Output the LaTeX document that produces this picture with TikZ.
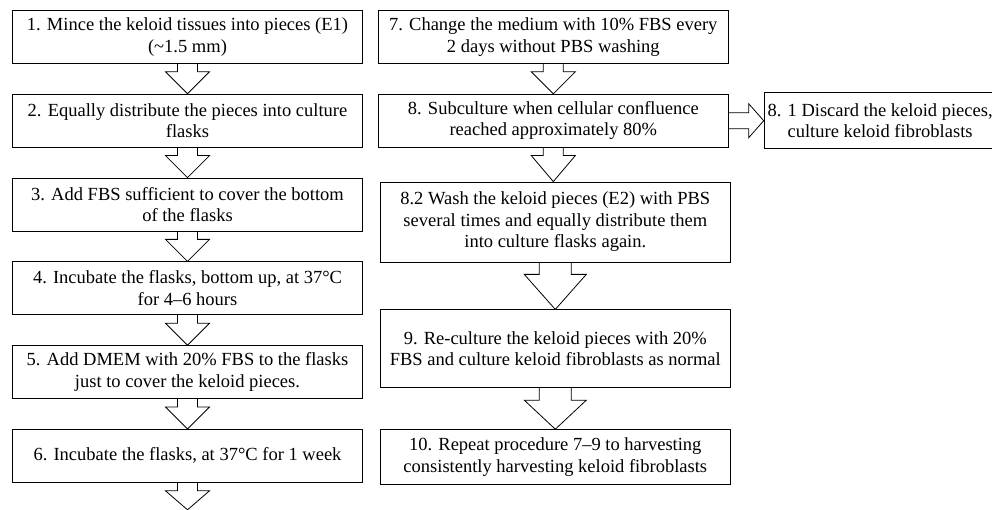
\documentclass[tikz,border=0pt]{standalone}
\usepackage{fontspec}
\setmainfont{Liberation Serif}
\usetikzlibrary{positioning}

\begin{document}
\begin{tikzpicture}[x=1pt,y=1pt,line width=0.8pt,node distance=30pt,
  stepbox/.style={draw,align=center,minimum width=350pt,minimum height=53pt,
    inner xsep=3pt,font=\fontsize{18.5}{21.5}\selectfont},
  blockdown/.style n args={3}{to path={
    ([xshift=-#1pt]\tikztostart.south) -- ++(0,-#3) -- ++(#1-#2,0)
    -- (\tikztostart.south |- \tikztotarget)
    -- ([shift={(#2,-#3)}]\tikztostart.south) -- ++(#1-#2,0)
    -- ([xshift=#1pt]\tikztostart.south)}},
  smallarrow/.style={blockdown={10}{22}{8}},
  bigarrow/.style={blockdown={16}{31}{12}},
  sidearrow/.style={to path={
    ([yshift=8pt]\tikztostart.east) -- ++(20,0) -- ++(0,9)
    -- (\tikztostart.east -| \tikztotarget)
    -- ([shift={(20,-17)}]\tikztostart.east) -- ++(0,9)
    -- ([yshift=-8pt]\tikztostart.east)}}]

  \useasboundingbox (0,0) rectangle (992,-510);

  % left column
  \node[stepbox,anchor=north] (s1) at (187.5,-10) {1. Mince the keloid tissues into pieces (E1)\\(\textasciitilde1.5 mm)};
  \node[stepbox] (s2) [below=of s1] {2. Equally distribute the pieces into culture\\flasks};
  \node[stepbox] (s3) [below=of s2] {3. Add FBS sufficient to cover the bottom\\of the flasks};
  \node[stepbox] (s4) [below=of s3] {4. Incubate the flasks, bottom up, at 37°C\\for 4--6 hours};
  \node[stepbox] (s5) [below=of s4] {5. Add DMEM with 20\% FBS to the flasks\\just to cover the keloid pieces.};
  \node[stepbox] (s6) [below=of s5] {6. Incubate the flasks, at 37°C\ for 1 week};
  \coordinate (end) at ([yshift=-27pt]s6.south);

  % right column
  \node[stepbox] (s7) [right=15pt of s1] {7. Change the medium with 10\% FBS every\\2 days without PBS washing};
  \node[stepbox] (s8) [below=of s7] {8. Subculture when cellular confluence\\reached approximately 80\%};
  \node[stepbox,minimum width=232pt,minimum height=56pt,inner xsep=1pt] (s81) [right=35pt of s8] {8. 1 Discard the keloid pieces,\\culture keloid fibroblasts};
  \node[stepbox,minimum height=80pt] (s82) [below=34pt of s8,xshift=2pt] {8.2 Wash the keloid pieces (E2) with PBS\\several times and equally distribute them\\into culture flasks again.};
  \node[stepbox,minimum height=78pt] (s9) [below=47pt of s82] {9. Re-culture the keloid pieces with 20\%\\FBS and culture keloid fibroblasts as normal};
  \node[stepbox,minimum height=55pt] (s10) [below=41pt of s9] {10. Repeat procedure 7--9 to harvesting\\consistently harvesting keloid fibroblasts};

  \path (s1) edge[smallarrow] (s2.north)
    (s2) edge[smallarrow] (s3.north)
    (s3) edge[smallarrow] (s4.north)
    (s4) edge[smallarrow] (s5.north)
    (s5) edge[smallarrow] (s6.north)
    (s6) edge[smallarrow] (end);

  \path (s7) edge[smallarrow] (s8.north)
    (s8) edge[smallarrow] (s82.north)
    (s82) edge[bigarrow] (s9.north)
    (s9) edge[bigarrow] (s10.north);

  \path (s8) edge[sidearrow] (s81.west);
\end{tikzpicture}
\end{document}
